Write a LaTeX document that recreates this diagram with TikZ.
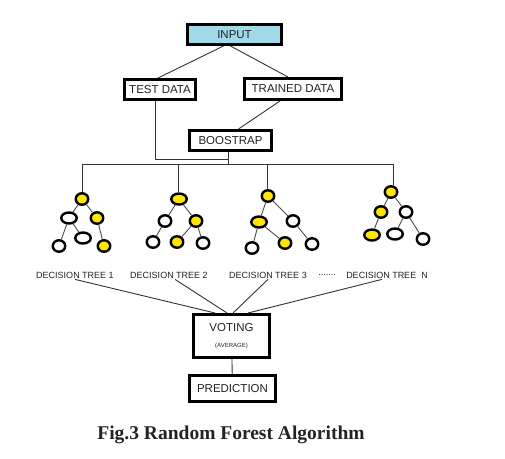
\documentclass[tikz,border=0pt]{standalone}
\usepackage{fontspec}
\setmainfont{Liberation Sans}
\newfontfamily\capfont{Liberation Serif}
\usetikzlibrary{shapes.geometric}
\definecolor{inblue}{RGB}{160,218,232}
\definecolor{leafyel}{RGB}{255,230,0}
\definecolor{txtgray}{RGB}{35,35,35}
\begin{document}
\begin{tikzpicture}
	[x=1pt, y=-1pt,
	box/.style={draw, line width=2.6pt, inner sep=0pt, text=txtgray, font=\fontsize{11.5}{13}\selectfont},
	leaf/.style={draw, ellipse, line width=2.4pt, fill=white, inner sep=0pt, minimum width=12.5pt, minimum height=11.5pt},
	wide/.style={minimum width=15.5pt, minimum height=11pt},
	yel/.style={fill=leafyel},
	tname/.style={text=txtgray, font=\fontsize{9}{10}\selectfont, inner sep=1pt},
	twig/.style={line width=0.9pt, draw=black!70}]
	\useasboundingbox (0,0) rectangle (505,458);
	\node[box, fill=inblue, minimum width=94.4pt, minimum height=20.4pt] (input) at (234.5,34.5) {INPUT};
	\node[box, minimum width=71.4pt, minimum height=20.4pt] (test) at (160,89.5) {TEST DATA};
	\node[box, minimum width=97.4pt, minimum height=21.4pt] (trained) at (293,89) {TRAINED DATA};
	\node[box, minimum width=82.4pt, minimum height=20.4pt] (boost) at (230.5,140.5) {BOOSTRAP};
	\node[box, minimum width=76.4pt, minimum height=43.4pt, align=center] (voting) at (231.5,336)
		{VOTING\\[3pt]{\fontsize{6}{7}\selectfont (AVERAGE)}};
	\node[box, minimum width=86.4pt, minimum height=26.4pt] (pred) at (232.5,388.5) {PREDICTION};
	\coordinate (join) at (228,159);
	\coordinate (barL) at (82,164);
	\coordinate (barR) at (393,164);
	% decision tree 1
	\node[leaf, yel] (t1r) at (82,199) {};
	\node[leaf, wide] (t1a) at (69,218) {};
	\node[leaf, yel] (t1b) at (97,218) {};
	\node[leaf] (t1c) at (59,246) {};
	\node[leaf, wide] (t1d) at (83,238) {};
	\node[leaf, yel] (t1e) at (104,246) {};
	% decision tree 2
	\node[leaf, yel, wide] (t2r) at (179,199) {};
	\node[leaf] (t2a) at (165,221) {};
	\node[leaf, yel] (t2b) at (196,221) {};
	\node[leaf] (t2c) at (153,242) {};
	\node[leaf, yel] (t2d) at (177,242) {};
	\node[leaf] (t2e) at (203,243) {};
	% decision tree 3
	\node[leaf, yel] (t3r) at (268,196) {};
	\node[leaf, yel, wide] (t3a) at (259,222) {};
	\node[leaf] (t3b) at (293,221) {};
	\node[leaf] (t3c) at (252,248) {};
	\node[leaf, yel] (t3d) at (285,243) {};
	\node[leaf] (t3e) at (312,244) {};
	% decision tree N
	\node[leaf, yel] (t4r) at (391,192) {};
	\node[leaf, yel] (t4a) at (381,212) {};
	\node[leaf] (t4b) at (406,212) {};
	\node[leaf, yel, wide] (t4c) at (372,235) {};
	\node[leaf, wide] (t4d) at (395,234) {};
	\node[leaf] (t4e) at (423,239) {};
	\node[tname] (n1) at (75,275) {DECISION TREE 1};
	\node[tname] (n2) at (169,275) {DECISION TREE 2};
	\node[tname] (n3) at (268,275) {DECISION TREE 3};
	\node[tname] (dots) at (327,275) {.......};
	\node[tname] (n4) at (387,275) {DECISION TREE\ \ N};
	\node[text=txtgray, font=\capfont\bfseries\fontsize{19.5}{22}\selectfont] (cap) at (231,435) {Fig.3 Random Forest Algorithm};
	\begin{scope}[line width=0.9pt, draw=black!80]
	\draw ([xshift=-11pt]input.south) edge ([xshift=-2pt]test.north);
	\draw ([xshift=-4pt]input.south) edge ([xshift=-5pt]trained.north);
	\draw ([xshift=-13pt]trained.south) edge ([xshift=8pt]boost.north);
	\draw ([xshift=-5pt]test.south) |- (join);
	\draw ([xshift=-2.5pt]boost.south) -- ([xshift=-2.5pt]boost.south |- barL);
	\draw (barL) -- (barR);
	\draw (t1r) -- (t1r |- barL);
	\draw ([xshift=-1pt]t2r.north) -- ([xshift=-1pt]t2r.north |- barL);
	\draw ([xshift=-1pt]t3r.north) -- ([xshift=-1pt]t3r.north |- barL);
	\draw ([xshift=2pt]t4r.north) -- ([xshift=2pt]t4r.north |- barL);
	\draw (n1.south) edge ([xshift=-16.5pt]voting.north);
	\draw ([xshift=6pt]n2.south) edge ([xshift=-4.5pt]voting.north);
	\draw (n3.south) edge ([xshift=1.5pt]voting.north);
	\draw ([xshift=-5pt]n4.south) edge ([xshift=16.5pt]voting.north);
	\draw (voting) edge (pred);
	\end{scope}
	\draw[twig] (t1r) -- (t1a) (t1r) -- (t1b) (t1a) -- (t1c) (t1a) -- (t1d) (t1b) -- (t1e);
	\draw[twig] (t2r) -- (t2a) (t2r) -- (t2b) (t2a) -- (t2c) (t2b) -- (t2d) (t2b) -- (t2e);
	\draw[twig] (t3r) -- (t3a) (t3r) -- (t3b) (t3a) -- (t3c) (t3a) -- (t3d) (t3b) -- (t3e);
	\draw[twig] (t4r) -- (t4a) (t4r) -- (t4b) (t4a) -- (t4c) (t4b) -- (t4d) (t4b) -- (t4e);
\end{tikzpicture}
\end{document}
